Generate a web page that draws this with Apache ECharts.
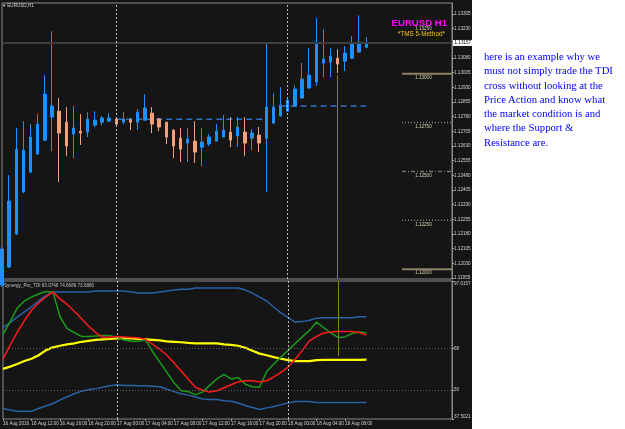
<!DOCTYPE html>
<html>
<head>
<meta charset="utf-8">
<script src="https://cdn.jsdelivr.net/npm/echarts@6/dist/echarts.min.js"></script>
<style>
html,body{margin:0;padding:0;background:#fff;}
#wrap{position:relative;width:625px;height:429px;overflow:hidden;}
#panel{position:absolute;left:0;top:0;width:472px;height:429px;background:#151515;}
#main{position:absolute;left:0;top:0;width:625px;height:429px;}
#note{position:absolute;left:484px;top:49px;font-family:"Liberation Serif","Times New Roman",serif;font-size:10.7px;line-height:14.3px;color:#0000ff;white-space:pre;}
</style>
</head>
<body>
<div id="wrap">
  <div id="panel"></div>
  <div id="main"></div>
  <div id="note">here is an example why we
must not simply trade the TDI
cross without looking at the
Price Action and know what
the market condition is and
where the Support &amp;
Resistance are.</div>
</div>
<script>
// EURUSD H1 bars, 16 Aug 08:00 .. 18 Aug 11:00
var categories = [
  '16 Aug 08:00','16 Aug 09:00','16 Aug 10:00','16 Aug 11:00','16 Aug 12:00','16 Aug 13:00','16 Aug 14:00','16 Aug 15:00',
  '16 Aug 16:00','16 Aug 17:00','16 Aug 18:00','16 Aug 19:00','16 Aug 20:00','16 Aug 21:00','16 Aug 22:00','16 Aug 23:00',
  '17 Aug 00:00','17 Aug 01:00','17 Aug 02:00','17 Aug 03:00','17 Aug 04:00','17 Aug 05:00','17 Aug 06:00','17 Aug 07:00',
  '17 Aug 08:00','17 Aug 09:00','17 Aug 10:00','17 Aug 11:00','17 Aug 12:00','17 Aug 13:00','17 Aug 14:00','17 Aug 15:00',
  '17 Aug 16:00','17 Aug 17:00','17 Aug 18:00','17 Aug 19:00','17 Aug 20:00','17 Aug 21:00','17 Aug 22:00','17 Aug 23:00',
  '18 Aug 00:00','18 Aug 01:00','18 Aug 02:00','18 Aug 03:00','18 Aug 04:00','18 Aug 05:00','18 Aug 06:00','18 Aug 07:00',
  '18 Aug 08:00','18 Aug 09:00','18 Aug 10:00','18 Aug 11:00'
];
// empty slots to the right of the last bar
var futureSlots = ['18 Aug 12:00','18 Aug 13:00','18 Aug 14:00','18 Aug 15:00','18 Aug 16:00','18 Aug 17:00',
  '18 Aug 18:00','18 Aug 19:00','18 Aug 20:00','18 Aug 21:00','18 Aug 22:00','18 Aug 23:00'];

var opens = [1.11919,1.12011,1.12180,1.12395,1.12497,1.12589,1.12660,1.12778,1.12808,1.12752,
  1.12691,1.12706,1.12701,1.12737,1.12752,1.12757,1.12768,1.12752,1.12762,1.12752,
  1.12762,1.12798,1.12768,1.12752,1.12711,1.12670,1.12645,1.12655,1.12624,1.12640,
  1.12655,1.12676,1.12701,1.12681,1.12701,1.12670,1.12686,1.12670,1.12747,1.12783,
  1.12808,1.12834,1.12875,1.12926,1.12957,1.13054,1.13059,1.13079,1.13064,1.13079,
  1.13110,1.13135];
var closes = [1.12103,1.12349,1.12614,1.12609,1.12676,1.12742,1.12895,1.12834,1.12696,1.12630,
  1.12722,1.12696,1.12768,1.12762,1.12773,1.12773,1.12742,1.12768,1.12752,1.12803,
  1.12824,1.12742,1.12727,1.12676,1.12630,1.12614,1.12665,1.12599,1.12650,1.12676,
  1.12706,1.12711,1.12660,1.12727,1.12645,1.12696,1.12645,1.12829,1.12829,1.12839,
  1.12865,1.12921,1.12972,1.12992,1.13156,1.13074,1.13089,1.13049,1.13105,1.13151,
  1.13161,1.13157];
var lows = [1.11909,1.12006,1.12175,1.12389,1.12492,1.12584,1.12655,1.12604,1.12446,1.12578,
  1.12568,1.12635,1.12676,1.12727,1.12737,1.12752,1.12732,1.12742,1.12711,1.12711,
  1.12762,1.12696,1.12706,1.12640,1.12568,1.12548,1.12548,1.12543,1.12527,1.12630,
  1.12655,1.12676,1.12624,1.12624,1.12578,1.12609,1.12599,1.12395,1.12747,1.12783,
  1.12808,1.12834,1.12875,1.12926,1.12936,1.12982,1.12982,1.13003,1.13013,1.13074,
  1.13110,1.13130];
var highs = [1.12113,1.12481,1.12722,1.12757,1.12742,1.12793,1.12992,1.13217,1.12875,1.12829,
  1.12834,1.12793,1.12803,1.12808,1.12783,1.12798,1.12773,1.12803,1.12773,1.12819,
  1.12895,1.12829,1.12773,1.12752,1.12716,1.12722,1.12722,1.12757,1.12722,1.12691,
  1.12742,1.12788,1.12778,1.12778,1.12778,1.12716,1.12727,1.13151,1.12900,1.12931,
  1.12880,1.12941,1.13054,1.13130,1.13284,1.13227,1.13130,1.13125,1.13141,1.13192,
  1.13299,1.13187];

var priceTicks = [1.11955,1.12030,1.12105,1.12180,1.12255,1.12330,1.12405,1.12480,1.12555,1.12630,
  1.12705,1.12780,1.12855,1.12930,1.13005,1.13080,1.13230,1.13305];
var bidPrice = 1.13157;

// daily open lines (blue dashed)
var dayOpenFrom = [16, 39];
var dayOpenTo = [37, 51];
var dayOpenPrice = [1.12767, 1.12834];

// support / resistance levels on the right
var srLevels = [1.13250, 1.13000, 1.12750, 1.12500, 1.12250, 1.12000];
var srFrom = 56, srTo = 63, srLabelAt = 59;

var separators = ['17 Aug 00:00', '18 Aug 00:00'];
var markerBar = '18 Aug 07:00';

// Synergy_Pro_TDI
var tdiTicks = [37.5021, 50, 68, 97.0157];
var upperBand = [76.9,79.1,81.4,83.7,85.9,88.4,90.6,92.3,92.3,92.3,
  92.3,92.3,92.3,92.7,92.7,92.7,92.7,92.7,92.3,91.8,
  91.8,91.8,92.3,92.7,93.1,93.5,93.5,94.0,94.0,94.0,
  94.0,94.0,94.0,94.0,93.1,91.8,90.1,88.4,85.7,83.3,
  81.2,79.3,79.5,80.1,81.0,81.2,81.2,81.2,81.2,81.2,
  81.6,81.6];
var lowerBand = [42.0,41.4,40.8,40.8,40.8,42.0,43.1,44.2,45.7,47.1,
  48.4,49.5,50.1,50.6,51.2,51.8,52.3,52.0,52.0,51.8,
  51.8,51.6,51.4,50.3,49.3,48.4,47.8,47.1,46.1,45.9,
  45.9,45.4,45.2,44.4,43.3,42.5,41.6,42.3,42.9,43.7,
  44.4,45.0,45.0,45.0,44.6,44.6,44.6,44.6,44.6,44.6,
  44.6,44.6];
var marketBase = [59.1,60.1,61.2,62.5,63.5,65.0,67.1,68.4,69.1,69.7,
  70.1,70.8,71.2,71.6,71.8,72.0,72.3,72.3,72.3,72.0,
  71.8,71.6,71.4,71.0,70.8,70.6,70.3,70.1,70.1,70.1,
  70.1,69.7,69.5,69.1,68.2,66.9,65.7,65.0,64.2,63.5,
  62.9,62.5,62.5,62.5,62.9,63.0,63.0,63.0,63.0,63.0,
  63.0,63.07];
var rsiLine = [74.0,79.5,85.4,88.4,90.1,91.4,92.5,92.3,81.6,76.5,
  74.8,73.1,73.1,73.3,73.5,73.5,72.7,71.6,71.0,71.0,
  71.6,66.5,62.0,57.6,53.1,49.7,49.3,48.0,49.1,52.0,
  54.8,56.7,54.8,55.4,52.5,51.4,51.2,58.0,61.2,64.2,
  67.1,70.1,72.9,75.7,79.3,76.9,74.6,72.7,72.9,74.4,
  75.0,74.67];
var signalLine = [63.3,69.3,75.0,79.9,84.4,87.6,90.1,92.3,89.3,86.9,
  84.0,80.8,77.6,74.8,72.7,72.9,73.1,72.9,72.7,72.5,
  71.8,69.7,67.6,65.0,61.6,58.2,54.6,51.2,49.9,49.1,
  49.7,51.0,52.3,53.5,54.0,54.0,53.5,54.0,55.7,57.6,
  59.9,63.3,67.1,71.2,73.1,74.6,75.0,75.2,75.2,75.2,
  74.8,73.69];

var xData = categories.concat(futureSlots);
var nBars = categories.length;
var smallFont = 'Liberation Sans';
var axisColor = '#d2d2d2';

var candleData = opens.map(function (o, i) {
    return [o, closes[i], lows[i], highs[i]];
});

var dayOpenData = xData.map(function () { return null; });
for (var k = 0; k < dayOpenPrice.length; k++) {
    for (var i = dayOpenFrom[k]; i <= dayOpenTo[k]; i++) {
        dayOpenData[i] = dayOpenPrice[k];
    }
}

// style of each level line (same order as srLevels), first one has no visible line
var srStyle = [
    null,
    {width: 2, type: 'solid', color: '#8c8064'},
    {width: 1.5, type: [1, 2], color: '#8a8472'},
    {width: 1.5, type: [4, 2, 1, 2], color: '#74726a'},
    {width: 1.5, type: [1, 2], color: '#86806e'},
    {width: 2, type: 'solid', color: '#8c8068'}
];
var srSeries = [];
srLevels.forEach(function (lvl, n) {
    if (!srStyle[n]) return;
    srSeries.push({
        type: 'line', xAxisIndex: 0, yAxisIndex: 0, symbol: 'none', silent: true, z: 1,
        data: xData.map(function (c, i) { return i >= srFrom && i <= srTo ? lvl : null; }),
        lineStyle: srStyle[n]
    });
});

var sepLine = {type: [2, 2], color: '#bdbdbd', width: 1};
var oliveLine = {type: 'solid', color: '#84841e', width: 1};

var baseGraphics = [
    {type: 'text', left: 3, top: 3, z: 10, silent: true,
        style: {text: '\u25BE EURUSD,H1', fill: axisColor, fontSize: 4.6, fontFamily: smallFont}},
    {type: 'text', right: 178, top: 18.5, z: 10, silent: true,
        style: {text: 'EURUSD H1', fill: '#ff00ff', fontSize: 9.6, fontWeight: 'bold', fontFamily: 'Liberation Sans'}},
    {type: 'text', right: 180, top: 31, z: 10, silent: true,
        style: {text: '*TMS 5-Method*', fill: '#f2c21e', fontSize: 6.4, fontFamily: 'Liberation Sans'}},
    {type: 'text', left: 4, top: 283, z: 10, silent: true,
        style: {text: 'Synergy_Pro_TDI 63.0746 74.6689 73.6880', fill: '#c4c4c4', fontSize: 4.6, fontFamily: smallFont}}
];

var chart = echarts.init(document.getElementById('main'));
var option = {
    animation: false,
    backgroundColor: 'transparent',
    grid: [
        {left: 2, top: 3, width: 450, height: 276, show: true, borderColor: '#8a8a8a', borderWidth: 1},
        {left: 2, top: 281, width: 450, height: 138, show: true, borderColor: '#8a8a8a', borderWidth: 1}
    ],
    xAxis: [
        {gridIndex: 0, type: 'category', data: xData, boundaryGap: false,
            axisLine: {show: false}, axisTick: {show: false}, axisLabel: {show: false}, splitLine: {show: false}},
        {gridIndex: 1, type: 'category', data: xData, boundaryGap: false,
            axisLine: {show: false},
            axisTick: {show: true, length: 2, lineStyle: {color: '#9a9a9a'},
                interval: function (i) { return i % 4 === 0 && i < nBars; }},
            axisLabel: {color: axisColor, fontSize: 4.6, fontFamily: smallFont, align: 'left', margin: 2,
                interval: function (i) { return i % 4 === 0 && i < nBars; },
                formatter: function (v, i) { return i === 0 ? '16 Aug 2016' : v; }},
            splitLine: {show: false}}
    ],
    yAxis: [
        {gridIndex: 0, type: 'value', position: 'right', min: 1.119499, max: 1.133613,
            splitLine: {show: false},
            axisLine: {show: true, lineStyle: {color: '#8a8a8a'}},
            axisTick: {show: true, customValues: priceTicks, length: 2, lineStyle: {color: '#aaaaaa'}},
            axisLabel: {customValues: priceTicks, margin: 2, color: axisColor, fontSize: 4.6, fontFamily: smallFont,
                formatter: function (v) { return v.toFixed(5); }}},
        {gridIndex: 1, type: 'value', position: 'right', min: 37.5021, max: 97.0157,
            splitLine: {show: false},
            axisLine: {show: true, lineStyle: {color: '#8a8a8a'}},
            axisTick: {show: true, customValues: tdiTicks, length: 2, lineStyle: {color: '#aaaaaa'}},
            axisLabel: {customValues: tdiTicks, margin: 2, color: axisColor, fontSize: 4.6, fontFamily: smallFont,
                verticalAlignMaxLabel: 'top', verticalAlignMinLabel: 'bottom',
                formatter: function (v) { return (v === 50 || v === 68) ? String(v) : v.toFixed(4); }}}
    ],
    series: srSeries.concat([
        {type: 'line', xAxisIndex: 0, yAxisIndex: 0, data: dayOpenData, symbol: 'none', silent: true, z: 1,
            lineStyle: {color: '#2d72c4', width: 1.5, type: [6, 4]}},
        {type: 'candlestick', xAxisIndex: 0, yAxisIndex: 0, data: candleData, barWidth: 3, z: 3,
            itemStyle: {color: '#1e90ff', color0: '#f4a07a', borderColor: '#1e90ff', borderColor0: '#f4a07a', borderWidth: 1},
            markLine: {silent: true, symbol: ['none', 'none'], animation: false, precision: 6,
                label: {show: false},
                data: [
                    {yAxis: bidPrice, lineStyle: {color: '#3e3e3e', width: 2, type: 'solid'},
                        label: {show: true, position: 'end', distance: 1, formatter: bidPrice.toFixed(5),
                            backgroundColor: '#ffffff', color: '#000000', padding: [1, 1.5, 0, 1.5],
                            fontSize: 4.6, fontFamily: smallFont}},
                    {xAxis: separators[0], lineStyle: sepLine},
                    {xAxis: separators[1], lineStyle: sepLine},
                    [{coord: [markerBar, 1.12992], lineStyle: oliveLine}, {coord: [markerBar, 1.1195]}]
                ]}},
        {type: 'line', xAxisIndex: 1, yAxisIndex: 1, data: upperBand, symbol: 'none', silent: true,
            lineStyle: {color: '#2a62a6', width: 1.5},
            markLine: {silent: true, symbol: ['none', 'none'], animation: false, precision: 6, label: {show: false},
                data: [
                    {yAxis: 68, lineStyle: {color: '#5c5c5c', type: [1, 2], width: 1}},
                    {yAxis: 50, lineStyle: {color: '#5c5c5c', type: [1, 2], width: 1}},
                    {xAxis: separators[0], lineStyle: sepLine},
                    {xAxis: separators[1], lineStyle: sepLine},
                    [{coord: [markerBar, 97.0157], lineStyle: oliveLine}, {coord: [markerBar, 64.6]}]
                ]}},
        {type: 'line', xAxisIndex: 1, yAxisIndex: 1, data: lowerBand, symbol: 'none', silent: true,
            lineStyle: {color: '#2a62a6', width: 1.5}},
        {type: 'line', xAxisIndex: 1, yAxisIndex: 1, data: marketBase, symbol: 'none', silent: true,
            lineStyle: {color: '#ffff00', width: 2.2}},
        {type: 'line', xAxisIndex: 1, yAxisIndex: 1, data: rsiLine, symbol: 'none', silent: true,
            lineStyle: {color: '#1b9a1b', width: 1.5}},
        {type: 'line', xAxisIndex: 1, yAxisIndex: 1, data: signalLine, symbol: 'none', silent: true,
            lineStyle: {color: '#ff1a1a', width: 1.5}}
    ]),
    graphic: baseGraphics
};
chart.setOption(option);

// level price labels under each level line, placed through the grid's own scale
var levelLabels = srLevels.map(function (lvl) {
    var p = chart.convertToPixel({gridIndex: 0}, [xData[srLabelAt], lvl]);
    return {type: 'text', x: p[0], y: p[1] + 1.5, z: 5, silent: true,
        style: {text: lvl.toFixed(5), fill: '#d6ceb4', fontSize: 4.6, fontFamily: smallFont,
            align: 'center', verticalAlign: 'top'}};
});
chart.setOption({graphic: baseGraphics.concat(levelLabels)});
</script>
</body>
</html>
